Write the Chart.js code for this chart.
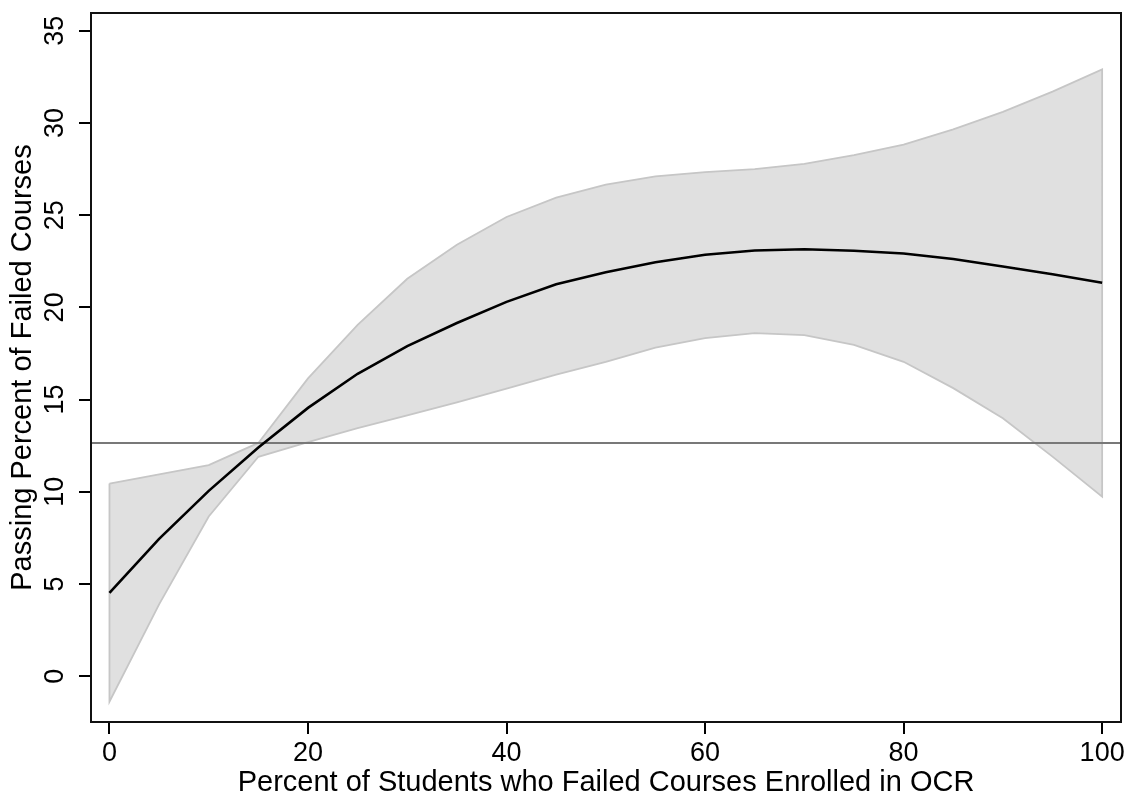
<!DOCTYPE html>
<html>
<head>
<meta charset="utf-8">
<script src="https://cdn.jsdelivr.net/npm/chart.js@4.4.1/dist/chart.umd.min.js"></script>
<style>
  html, body { margin: 0; padding: 0; background: #fff; }
  #wrap { width: 1132px; height: 800px; }
</style>
</head>
<body>
<div id="wrap"><canvas id="chart" width="1132" height="800"></canvas></div>
<script>
"use strict";

// percent of students who failed courses enrolled in OCR
const xs = [0, 5, 10, 15, 20, 25, 30, 35, 40, 45, 50, 55, 60, 65, 70, 75, 80, 85, 90, 95, 100];

// fitted line and confidence band
const fitted = [4.52, 7.45, 10.05, 12.4, 14.55, 16.4, 17.9, 19.15, 20.3, 21.25, 21.9, 22.45, 22.85, 23.08, 23.15, 23.07, 22.92, 22.62, 22.22, 21.8, 21.33];
const upper  = [10.45, 10.95, 11.45, 12.65, 16.15, 19.05, 21.55, 23.4, 24.9, 25.95, 26.65, 27.1, 27.33, 27.5, 27.78, 28.25, 28.82, 29.65, 30.6, 31.7, 32.9];
const lower  = [-1.38, 3.9, 8.66, 11.9, 12.7, 13.45, 14.15, 14.85, 15.6, 16.35, 17.05, 17.82, 18.33, 18.6, 18.5, 17.97, 17.05, 15.62, 13.99, 11.91, 9.74];

// horizontal reference line
const refValue = 12.64;

const xTicks = [0, 20, 40, 60, 80, 100];
const yTicks = [0, 5, 10, 15, 20, 25, 30, 35];

const xMin = -1.86, xMax = 101.9;
const yMin = -2.48, yMax = 35.96;

const fontFamily = "'Liberation Sans', Arial, Helvetica, sans-serif";

// band as closed polygon: upper forward, lower backward
const bandPoints = [];
xs.forEach((x, i) => bandPoints.push({ x: x, y: upper[i] }));
for (let i = xs.length - 1; i >= 0; i--) bandPoints.push({ x: xs[i], y: lower[i] });
bandPoints.push({ x: xs[0], y: upper[0] });

const frame = {
    id: "frame",
    afterDraw(chart) {
        const { ctx, chartArea: a } = chart;
        ctx.save();
        ctx.strokeStyle = "#111";
        ctx.lineWidth = 2;
        ctx.strokeRect(a.left, a.top, a.right - a.left, a.bottom - a.top);
        ctx.restore();
    }
};

const ctx = document.getElementById("chart").getContext("2d");

new Chart(ctx, {
    type: "line",
    data: {
        datasets: [
            {
                label: "Fitted",
                data: xs.map((x, i) => ({ x: x, y: fitted[i] })),
                borderColor: "#000",
                borderWidth: 2.6,
                pointRadius: 0,
                tension: 0,
                fill: false,
                order: 0
            },
            {
                label: "Reference",
                data: [{ x: xMin, y: refValue }, { x: xMax, y: refValue }],
                borderColor: "#787878",
                borderWidth: 2,
                pointRadius: 0,
                fill: false,
                order: 1
            },
            {
                label: "CI",
                data: bandPoints,
                borderColor: "#c6c6c6",
                borderWidth: 1.8,
                backgroundColor: "#e0e0e0",
                pointRadius: 0,
                tension: 0,
                fill: "shape",
                order: 2
            }
        ]
    },
    options: {
        responsive: false,
        animation: false,
        layout: { padding: { top: 13, right: 11, left: 0, bottom: 0 } },
        plugins: {
            legend: { display: false },
            tooltip: { enabled: false }
        },
        scales: {
            x: {
                type: "linear",
                min: xMin,
                max: xMax,
                afterBuildTicks: s => { s.ticks = xTicks.map(v => ({ value: v })); },
                afterFit: s => { s.height = 78; s.paddingLeft = 0; s.paddingRight = 0; },
                border: { display: false },
                grid: { drawOnChartArea: false, drawTicks: true, tickLength: 12, lineWidth: 2, color: "#000" },
                ticks: {
                    color: "#000",
                    padding: 3,
                    maxRotation: 0,
                    font: { family: fontFamily, size: 27 }
                },
                title: {
                    display: true,
                    text: "Percent of Students who Failed Courses Enrolled in OCR",
                    color: "#000",
                    padding: { top: 0, bottom: 0 },
                    font: { family: fontFamily, size: 29 }
                }
            },
            y: {
                type: "linear",
                min: yMin,
                max: yMax,
                afterBuildTicks: s => { s.ticks = yTicks.map(v => ({ value: v })); },
                afterFit: s => { s.width = 91; s.paddingTop = 0; s.paddingBottom = 0; },
                border: { display: false },
                grid: { drawOnChartArea: false, drawTicks: true, tickLength: 12, lineWidth: 2, color: "#000" },
                ticks: {
                    color: "#000",
                    padding: 8,
                    minRotation: 90,
                    maxRotation: 90,
                    crossAlign: "center",
                    font: { family: fontFamily, size: 27 }
                },
                title: {
                    display: true,
                    text: "Passing Percent of Failed Courses",
                    color: "#000",
                    padding: { top: 6, bottom: 0 },
                    font: { family: fontFamily, size: 29 }
                }
            }
        }
    },
    plugins: [frame]
});
</script>
</body>
</html>
